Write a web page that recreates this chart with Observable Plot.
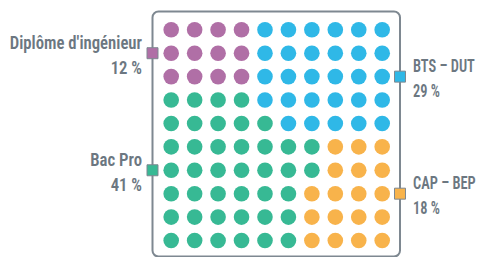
<!DOCTYPE html>
<html>
<head>
<meta charset="utf-8">
<script src="https://cdn.jsdelivr.net/npm/d3@7"></script>
<script src="https://cdn.jsdelivr.net/npm/@observablehq/plot@0.6"></script>
<style>
  html, body { margin: 0; padding: 0; background: #fff; }
  #chart svg { display: block; }
</style>
</head>
<body>
<div id="chart"></div>
<script>
const categories = ["Diplôme d'ingénieur", "BTS – DUT", "Bac Pro", "CAP – BEP"];
const codes = ["P", "B", "G", "O"];
const percents = [12, 29, 41, 18];
const colors = ["#b06fa6", "#2fb8e7", "#37b994", "#f8b34b"];
const sides = ["left", "right", "left", "right"];
const markerRows = [2, 3, 7, 8];
const gridRows = [
  "PPPPBBBBBB",
  "PPPPBBBBBB",
  "PPPPBBBBBB",
  "GGGGBBBBBB",
  "GGGGGBBBBB",
  "GGGGGGGOOO",
  "GGGGGGGOOO",
  "GGGGGGOOOO",
  "GGGGGGOOOO",
  "GGGGGGOOOO"
];

const cells = [];
gridRows.forEach((row, r) => {
  [...row].forEach((c, col) => cells.push({row: r + 1, col: col + 1, code: c}));
});
const labels = categories.map((name, i) => ({
  name, code: codes[i], pct: percents[i], side: sides[i], row: markerRows[i],
  text: name + "\n" + percents[i] + " %"
}));

const textColor = "#6c7781";
const frameColor = "#7e8891";
const font = "'Roboto Condensed', 'DejaVu Sans Condensed', 'Liberation Sans Narrow', sans-serif";

const chart = Plot.plot({
  width: 480,
  height: 257,
  marginLeft: 152,
  marginRight: 80.5,
  marginTop: 11,
  marginBottom: 1,
  x: {domain: [1, 10], insetLeft: 18.7, insetRight: 17.8, axis: null},
  y: {domain: [1, 10], reverse: true, insetTop: 18.3, insetBottom: 16, axis: null},
  color: {domain: codes, range: colors},
  style: {fontFamily: font},
  marks: [
    Plot.frame({stroke: frameColor, strokeWidth: 2, rx: 6}),
    Plot.dot(cells, {x: "col", y: "row", fill: "code", r: 7.8}),
    Plot.dot(labels.filter(d => d.side === "left"), {y: "row", frameAnchor: "left", symbol: "square", r: 6.2, fill: "code", stroke: frameColor, strokeWidth: 1}),
    Plot.dot(labels.filter(d => d.side === "right"), {y: "row", frameAnchor: "right", symbol: "square", r: 6.2, fill: "code", stroke: frameColor, strokeWidth: 1}),
    Plot.text(labels.filter(d => d.side === "left"), {y: "row", text: "text", frameAnchor: "left", textAnchor: "end", dx: -10.5, lineAnchor: "middle", lineHeight: 1.39, fontSize: 18, fontWeight: 600, fill: textColor, className: "lbl-left"}),
    Plot.text(labels.filter(d => d.side === "right"), {y: "row", text: "text", frameAnchor: "right", textAnchor: "start", dx: 13, lineAnchor: "middle", lineHeight: 1.39, fontSize: 18, fontWeight: 600, fill: textColor, className: "lbl-right"})
  ]
});
document.getElementById("chart").appendChild(chart);

// condense labels horizontally about their anchor (narrow DIN-like look)
const condense = (sel, k) => d3.select(chart).selectAll(sel).each(function() {
  const t = this.getAttribute("transform") || "";
  this.setAttribute("transform", t + ` scale(${k},1)`);
});
condense("g.lbl-left text", 0.93);
condense("g.lbl-right text", 0.8);
</script>
</body>
</html>
